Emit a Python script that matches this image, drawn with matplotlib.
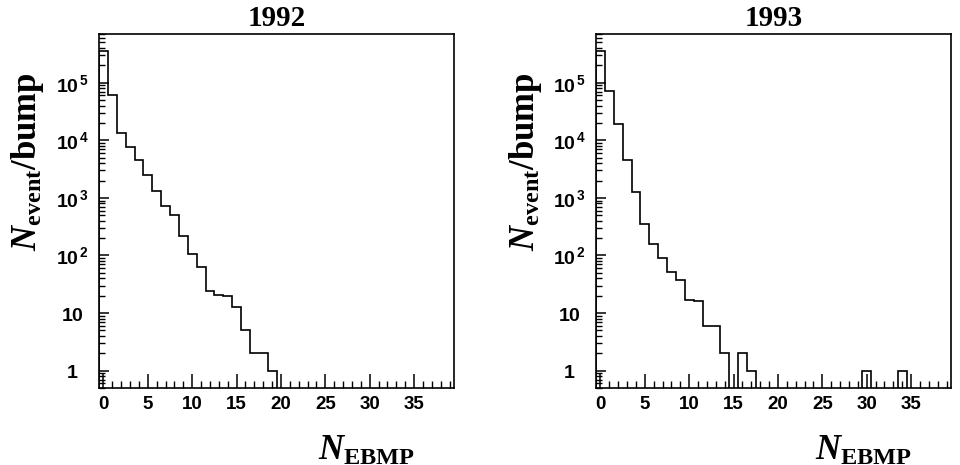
import numpy as np
import matplotlib
matplotlib.use("Agg")
import matplotlib.pyplot as plt
from matplotlib.ticker import MultipleLocator, LogLocator, FixedLocator, FuncFormatter, NullFormatter

plt.rcParams['mathtext.fontset'] = 'custom'
plt.rcParams['mathtext.rm'] = 'Liberation Serif:bold'
plt.rcParams['mathtext.bf'] = 'Liberation Serif:bold'
plt.rcParams['mathtext.it'] = 'Liberation Serif:bold:italic'
plt.rcParams['mathtext.sf'] = 'Liberation Sans:bold'

# Events per N_EBMP value (bins centred on 0, 1, 2, ...), rest are zero
n_bins = 40
years = ["1992", "1993"]
counts_1992 = [350000, 62000, 13400, 7600, 4500, 2460, 1330, 710, 510, 214,
               107, 64, 24, 21, 20, 13, 5, 2, 2, 1]
counts_1993 = [350000, 71000, 19200, 4600, 1250, 351, 157, 92, 51, 38,
               17, 16, 6, 6, 2, 0, 2, 1]
# isolated single entries far out in the 1993 tail
tail_1993_bins = [30, 34]
tail_1993_counts = [1, 1]
y_decades = [1, 10, 1e2, 1e3, 1e4, 1e5]


def full_hist(counts, extra_bins=(), extra_counts=()):
    h = np.zeros(n_bins)
    h[:len(counts)] = counts
    for b, c in zip(extra_bins, extra_counts):
        h[b] = c
    return h


hists = [full_hist(counts_1992), full_hist(counts_1993, tail_1993_bins, tail_1993_counts)]
edges = np.arange(n_bins + 1) - 0.5


def ylabel_fmt(v, pos):
    e = int(round(np.log10(v)))
    if e == 0:
        return r'$\mathsf{1}$'
    if e == 1:
        return r'$\mathsf{10}$'
    return r'$\mathsf{10^{\,%d}}$' % e


fig = plt.figure(figsize=(9.6, 4.65), dpi=100)
lefts = [99 / 960, 596 / 960]

for left, year, h in zip(lefts, years, hists):
    ax = fig.add_axes([left, 1 - 388 / 465, 355 / 960, 354 / 465])
    ax.stairs(h, edges, color="black", linewidth=1.2)
    ax.set_yscale("log")
    ax.set_xlim(-0.5, 39.5)
    ax.set_ylim(0.5, 7e5)

    for s in ax.spines.values():
        s.set_linewidth(1.2)

    ax.xaxis.set_major_locator(MultipleLocator(5))
    ax.xaxis.set_minor_locator(MultipleLocator(1))
    ax.yaxis.set_major_locator(FixedLocator(y_decades))
    ax.yaxis.set_minor_locator(LogLocator(base=10, subs=np.arange(2, 10), numticks=20))
    ax.yaxis.set_major_formatter(FuncFormatter(ylabel_fmt))
    ax.yaxis.set_minor_formatter(NullFormatter())

    ax.tick_params(axis="x", which="major", direction="in", length=10, width=1.1,
                   pad=6, labelsize=13.5)
    ax.tick_params(axis="x", which="minor", direction="in", length=5, width=1.0)
    ax.tick_params(axis="y", which="major", direction="in", length=7, width=1.1,
                   pad=19, labelsize=14)
    ax.tick_params(axis="y", which="minor", direction="in", length=4, width=1.0)
    for lab in ax.get_xticklabels():
        lab.set_fontfamily("Liberation Sans")
        lab.set_fontweight("bold")
    for lab in ax.get_yticklabels():
        lab.set_horizontalalignment("center")

    ax.set_title(year, fontfamily="Liberation Serif", fontweight="bold",
                 fontsize=21, pad=6)
    ax.set_xlabel(r'$N_{\mathrm{EBMP}}$', fontsize=25, va="center")
    ax.xaxis.set_label_coords(0.755, -0.175)
    ax.set_ylabel(r'$N_{\mathrm{event}}/\mathrm{bump}$', fontsize=25, va="center")
    ax.yaxis.set_label_coords(-0.2, 0.64)

fig.savefig("out.png", dpi=100)
